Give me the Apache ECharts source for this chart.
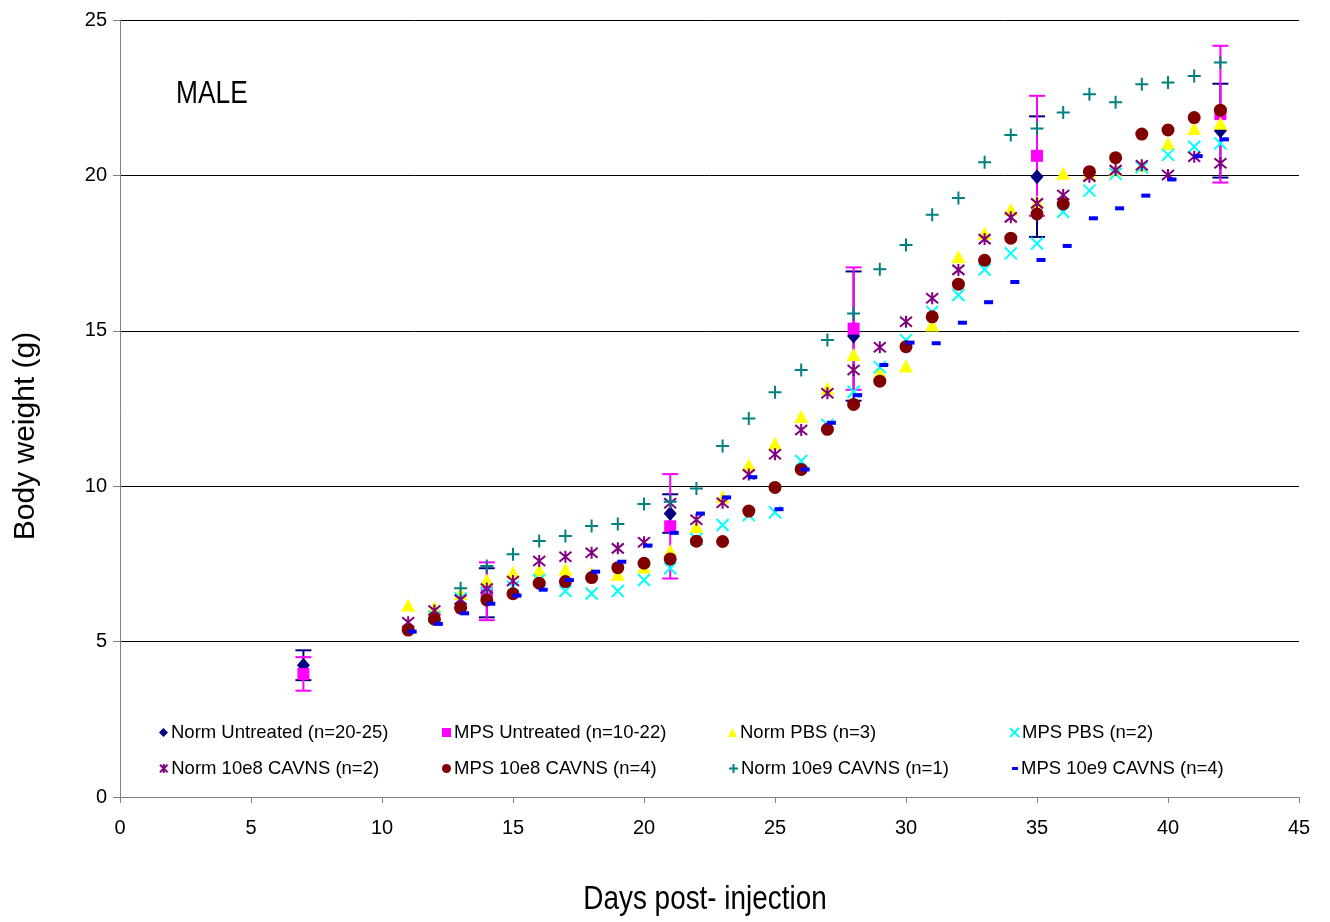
<!DOCTYPE html>
<html>
<head>
<meta charset="utf-8">
<title>Body weight - MALE</title>
<script src="https://cdn.jsdelivr.net/npm/echarts@6/dist/echarts.min.js"></script>
<style>
  html, body { margin: 0; padding: 0; background: #fff; }
  #chart { width: 1330px; height: 922px; }
</style>
</head>
<body>
<div id="chart"></div>
<script>
// ---- data: body weight (g) by day post-injection ----
const untreatedDays = [7, 14, 21, 28, 35, 42];
const normUntreated    = [4.24, 6.57, 9.12, 14.83, 19.96, 21.44];
const normUntreatedErr = [0.48, 0.79, 0.62, 2.08, 1.94, 1.51];
const mpsUntreated     = [3.96, 6.62, 8.71, 15.07, 20.63, 21.97];
const mpsUntreatedErr  = [0.54, 0.93, 1.68, 1.97, 1.93, 2.20];

const days11 = [11, 12, 13, 14, 15, 16, 17, 18, 19, 20, 21, 22, 23, 24, 25, 26,
                27, 28, 29, 30, 31, 32, 33, 34, 35, 36, 37, 38, 39, 40, 41, 42];
const days12 = [12, 13, 14, 15, 16, 17, 18, 19, 20, 21, 22, 23, 24, 25, 26,
                27, 28, 29, 30, 31, 32, 33, 34, 35, 36, 37, 38, 39, 40, 41, 42];
const days13 = [13, 14, 15, 16, 17, 18, 19, 20, 21, 22, 23, 24, 25, 26,
                27, 28, 29, 30, 31, 32, 33, 34, 35, 36, 37, 38, 39, 40, 41, 42];

const normPBS = [6.18, 6.10, 6.55, 6.98, 7.22, 7.30, 7.33, 7.20, 7.17, 7.40, 7.92, 8.70,
                 9.66, 10.68, 11.38, 12.24, 13.15, 14.24, 13.65, 13.87, 15.19, 17.38,
                 18.14, 18.91, 19.15, 20.07, 20.06, 20.17, 20.33, 21.03, 21.51, 21.68];
const mpsPBS = [5.80, 6.39, 6.56, 6.77, 6.98, 6.63, 6.55, 6.63, 6.98, 7.36, 8.30,
                8.75, 9.07, 9.16, 10.81, 11.97, 13.04, 13.83, 14.70, 15.61, 16.15,
                16.97, 17.49, 17.81, 18.83, 19.51, 20.05, 20.26, 20.66, 20.92, 21.03];
const norm10e8 = [5.62, 6.00, 6.35, 6.71, 6.95, 7.59, 7.73, 7.86, 8.00, 8.20, 9.45, 8.92,
                  9.47, 10.38, 11.03, 11.81, 12.99, 13.74, 14.47, 15.29, 16.05, 16.96,
                  17.95, 18.65, 19.10, 19.37, 19.96, 20.17, 20.33, 20.01, 20.60, 20.39];
const mps10e8 = [5.37, 5.72, 6.08, 6.34, 6.54, 6.88, 6.93, 7.06, 7.38, 7.52, 7.66, 8.23,
                 8.22, 9.20, 9.96, 10.54, 11.83, 12.63, 13.38, 14.49, 15.45, 16.50,
                 17.27, 17.98, 18.76, 19.08, 20.12, 20.57, 21.33, 21.46, 21.86, 22.10];
const norm10e9 = [6.72, 7.43, 7.81, 8.24, 8.40, 8.72, 8.78, 9.43, 9.50, 9.93, 11.29,
                  12.18, 13.02, 13.74, 14.70, 15.56, 16.98, 17.76, 18.73, 19.27, 20.42,
                  21.30, 21.51, 22.02, 22.61, 22.35, 22.93, 22.99, 23.20, 23.63];
const mps10e9 = [5.32, 5.57, 5.91, 6.22, 6.48, 6.67, 6.98, 7.25, 7.57, 8.09, 8.50, 9.12,
                 9.64, 10.29, 9.26, 10.54, 12.04, 12.93, 13.90, 14.62, 14.60, 15.26,
                 15.92, 16.57, 17.28, 17.73, 18.62, 18.94, 19.35, 19.87, 20.62, 21.16];

const seriesNames = [
  'Norm Untreated (n=20-25)', 'MPS Untreated (n=10-22)', 'Norm PBS (n=3)', 'MPS PBS (n=2)',
  'Norm 10e8 CAVNS (n=2)', 'MPS 10e8 CAVNS (n=4)', 'Norm 10e9 CAVNS (n=1)', 'MPS 10e9 CAVNS (n=4)'
];

// ---- styling ----
const FONT = "'Liberation Sans', Arial, sans-serif";
const SYM_X = 'path://M0 0L10 10M10 0L0 10';
const SYM_STAR = 'path://M0 0L10 10M10 0L0 10M5 -1L5 11';
const SYM_PLUS = 'path://M5 0L5 10M0 5L10 5';

function pairs(xs, ys) { return xs.map((x, i) => [x, ys[i]]); }
function bars(xs, ys, es) { return xs.map((x, i) => [x, ys[i] - es[i], ys[i] + es[i]]); }

function errorBars(name, color, data) {
  return {
    type: 'custom',
    name: name,
    silent: true,
    encode: { x: 0, y: [1, 2] },
    data: data,
    renderItem: function (params, api) {
      const x = api.value(0);
      const top = api.coord([x, api.value(2)]);
      const bot = api.coord([x, api.value(1)]);
      const hw = 8;
      const st = { stroke: color, lineWidth: 2 };
      return {
        type: 'group',
        children: [
          { type: 'line', shape: { x1: top[0], y1: top[1], x2: bot[0], y2: bot[1] }, style: st },
          { type: 'line', shape: { x1: top[0] - hw, y1: top[1], x2: top[0] + hw, y2: top[1] }, style: st },
          { type: 'line', shape: { x1: bot[0] - hw, y1: bot[1], x2: bot[0] + hw, y2: bot[1] }, style: st }
        ]
      };
    }
  };
}

function scatter(name, data, symbol, size, color, stroke, offset) {
  const s = {
    type: 'scatter',
    name: name,
    data: data,
    symbol: symbol,
    symbolSize: size,
    itemStyle: stroke
      ? { color: color, borderColor: color, borderWidth: 2, opacity: 1 }
      : { color: color, opacity: 1 }
  };
  if (offset) s.symbolOffset = offset;
  return s;
}

const series = [
  errorBars('nu-err', '#000080', bars(untreatedDays, normUntreated, normUntreatedErr)),
  scatter(seriesNames[0], pairs(untreatedDays, normUntreated), 'diamond', [13, 15], '#000080'),
  errorBars('mu-err', '#FF00FF', bars(untreatedDays, mpsUntreated, mpsUntreatedErr)),
  scatter(seriesNames[1], pairs(untreatedDays, mpsUntreated), 'rect', 12, '#FF00FF'),
  scatter(seriesNames[2], pairs(days11, normPBS), 'triangle', [14, 13], '#FFFF00'),
  scatter(seriesNames[3], pairs(days12, mpsPBS), SYM_X, 12, '#00FFFF', true),
  scatter(seriesNames[4], pairs(days11, norm10e8), SYM_STAR, 12, '#800080', true),
  scatter(seriesNames[5], pairs(days11, mps10e8), 'circle', 13, '#800000'),
  scatter(seriesNames[6], pairs(days13, norm10e9), SYM_PLUS, 13, '#008080', true),
  scatter(seriesNames[7], pairs(days11, mps10e9), 'rect', [9, 4], '#0000FF', false, [4, 0])
];

// legend: two rows of four fixed-width columns
const legendCols = [154, 437, 723, 1004];
const legendRows = [718, 754];
const legends = seriesNames.map((n, i) => {
  const isDash = i === 7;
  return {
    data: [n],
    left: legendCols[i % 4] + (isDash ? 3 : 0),
    top: legendRows[Math.floor(i / 4)],
    itemWidth: isDash ? 6 : 9,
    itemHeight: isDash ? 3 : 9,
    itemGap: 0,
    selectedMode: false,
    textStyle: { fontFamily: FONT, fontSize: 18.5, color: '#000', padding: [0, 0, 0, -2] }
  };
});

const chart = echarts.init(document.getElementById('chart'), null, { renderer: 'canvas' });
chart.setOption({
  backgroundColor: '#fff',
  animation: false,
  grid: { left: 120, right: 31, top: 20, bottom: 125, containLabel: false },
  xAxis: {
    type: 'value',
    min: 0, max: 45, interval: 5,
    axisLine: { lineStyle: { color: '#808080', width: 1 } },
    axisTick: { show: true, length: 6, lineStyle: { color: '#808080' } },
    axisLabel: { fontFamily: FONT, fontSize: 20, color: '#000', margin: 21 },
    splitLine: { show: false }
  },
  yAxis: {
    type: 'value',
    min: 0, max: 25, interval: 5,
    axisLine: { show: true, lineStyle: { color: '#808080', width: 1 } },
    axisTick: { show: true, length: 7, lineStyle: { color: '#808080' } },
    axisLabel: { fontFamily: FONT, fontSize: 20, color: '#000', margin: 13 },
    splitLine: { show: true, lineStyle: { color: '#000', width: 1 } }
  },
  legend: legends,
  graphic: [
    {
      type: 'text',
      x: 26, y: 436,
      rotation: Math.PI / 2,
      style: {
        text: 'Body weight (g)',
        font: "30px 'Liberation Sans', Arial, sans-serif",
        fill: '#000',
        textAlign: 'center',
        textVerticalAlign: 'middle'
      }
    },
    {
      type: 'text',
      x: 705, y: 900,
      scaleX: 0.82,
      style: {
        text: 'Days post- injection',
        font: "34px 'Liberation Sans', Arial, sans-serif",
        fill: '#000',
        textAlign: 'center',
        textVerticalAlign: 'middle'
      }
    },
    {
      type: 'text',
      x: 176, y: 79,
      scaleX: 0.85,
      style: {
        text: 'MALE',
        font: "31px 'Liberation Sans', Arial, sans-serif",
        fill: '#000',
        textVerticalAlign: 'top'
      }
    }
  ],
  series: series
});
</script>
</body>
</html>
